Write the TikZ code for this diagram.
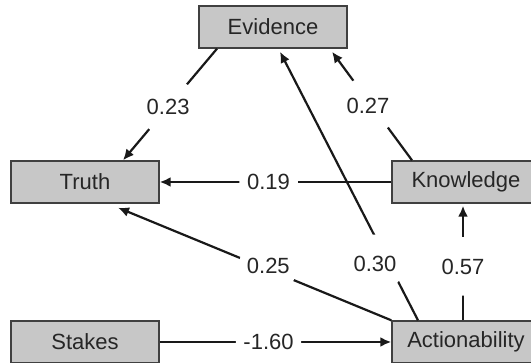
\documentclass[tikz,border=0pt]{standalone}
\usepackage{fontspec}
\setsansfont{Liberation Sans}
\usepackage{tikz}
\usetikzlibrary{arrows.meta,positioning}
\tikzstyle{every picture}+=[font=\sffamily]

\begin{document}
\begin{tikzpicture}
		[x=0.5pt, y=-0.5pt, font=\sffamily\fontsize{11}{13}\selectfont, inner sep=0pt,
		 box/.style={draw=black!75, line width=0.7pt, fill=black!22, text=black!85,
		 	minimum width=74pt, minimum height=21pt},
		 link/.style={draw=black!90, line width=1.1pt, -{Latex[length=5.5pt, width=5pt]}},
		 weight/.style={circle, fill=white, inner sep=2.5pt, text=black!85}]
		
		\useasboundingbox (0, 0) rectangle (531, 363);
		
		% boxes --------------------------------------------------
		\node[box] (evidence) at (273, 27) {Evidence};
		\node[box] (truth) at (85, 182) {Truth};
		\node[box] (knowledge) at (466, 182) {Knowledge};
		\node[box] (stakes) at (85, 342) {Stakes};
		\node[box] (action) at (466, 342) {Actionability};
		
		% upper triangle -----------------------------------------
		\draw[link] ([xshift=-28pt]evidence.south) -- node[weight, pos=0.52]{0.23} ([xshift=19pt]truth.north);
		
		\draw[link] ([xshift=-27pt]knowledge.north) -- node[weight, pos=0.5, xshift=-2pt]{0.27} ([xshift=29.5pt, yshift=-1.5pt]evidence.south);
		
		\draw[link] (knowledge.west) -- node[weight, pos=0.53]{0.19} (truth.east);
		
		% from actionability -------------------------------------
		\draw[link] ([xshift=-24pt]action.north) -- node[weight, pos=0.21, xshift=-7pt]{0.30} ([xshift=3.5pt, yshift=-1.5pt]evidence.south);
		
		\draw[link] (action.north west) -- node[weight, pos=0.45, yshift=2pt]{0.25} ([xshift=16.5pt, yshift=-2pt]truth.south);
		
		\draw[link] ([xshift=-1.5pt]action.north) -- node[weight, pos=0.47]{0.57} ([xshift=-1.5pt, yshift=-1pt]knowledge.south);
		
		% stakes -------------------------------------------------
		\draw[link] (stakes.east) -- node[weight, pos=0.47]{-1.60} (action.west);
		\end{tikzpicture}
\end{document}
